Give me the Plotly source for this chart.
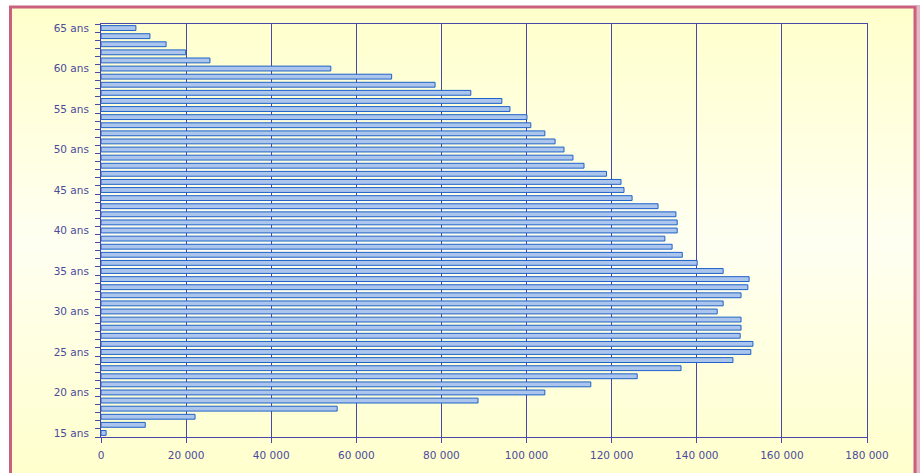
import plotly.graph_objects as go

ages = list(range(15, 66))
# values indexed from 15 ans to 65 ans
values = [1200, 10400, 22100, 55500, 88600, 104300, 115100, 126000, 136300, 148500,
          152700, 153200, 150200, 150400, 150400, 144800, 146200, 150400, 152000, 152300,
          146200, 140100, 136600, 134200, 132500, 135400, 135400, 135100, 130900, 124800,
          122900, 122200, 118800, 113500, 110900, 108800, 106700, 104300, 101000, 100100,
          96100, 94200, 86900, 78500, 68300, 54000, 25600, 19900, 15300, 11500, 8200]
label_ages = [15, 20, 25, 30, 35, 40, 45, 50, 55, 60, 65]
label_text = [f"{a} ans" for a in label_ages]
x_ticks = [0, 20000, 40000, 60000, 80000, 100000, 120000, 140000, 160000, 180000]
x_text = ["0", "20 000", "40 000", "60 000", "80 000", "100 000", "120 000", "140 000", "160 000", "180 000"]

W, H = 920, 473
L, R, T, B = 101, 867, 24, 437

def px(x):
    return (x - L) / (R - L)

def py(y):
    return (B - y) / (B - T)

axis_col = "#4848A8"
font_col = "#4B4B9B"

fig = go.Figure()
fig.add_trace(go.Bar(
    x=values, y=ages, orientation="h",
    marker=dict(color="#ABC5EC", line=dict(color="#1F62C9", width=1)),
    width=0.6, hoverinfo="x+y",
))

shapes = []
top_c = (255, 255, 204)
mid_c = (255, 255, 242)
n = 60
y0p, y1p = 7, 480
for i in range(n):
    f = i / (n - 1)
    t = abs(f - 0.5) * 2
    c = tuple(int(round(mid_c[k] + (top_c[k] - mid_c[k]) * t)) for k in range(3))
    ya = y0p + (y1p - y0p) * i / n
    yb = y0p + (y1p - y0p) * (i + 1) / n + 1
    shapes.append(dict(type="rect", xref="paper", yref="paper", layer="below",
                       x0=px(10), x1=px(915), y0=py(ya), y1=py(yb),
                       fillcolor=f"rgb{c}", line=dict(width=0)))
shapes.append(dict(type="rect", xref="paper", yref="paper", layer="below",
                   x0=px(916), x1=px(921), y0=py(5), y1=py(480),
                   fillcolor="#E6B7C6", line=dict(width=0)))
shapes.append(dict(type="rect", xref="paper", yref="paper", layer="below",
                   x0=px(10.5), x1=px(915), y0=py(7), y1=py(490),
                   fillcolor="rgba(0,0,0,0)", line=dict(color="#C8607E", width=3)))

fig.update_layout(
    width=W, height=H,
    margin=dict(l=L, r=W - R, t=T, b=H - B, pad=0),
    paper_bgcolor="white", plot_bgcolor="rgba(0,0,0,0)",
    showlegend=False, shapes=shapes,
    font=dict(family="DejaVu Sans, Verdana", size=10.5, color=font_col),
    xaxis=dict(range=[0, 180000], tickvals=x_ticks, ticktext=x_text,
               showgrid=True, gridcolor=axis_col, gridwidth=1,
               showline=True, linecolor=axis_col, linewidth=1, mirror=True,
               ticks="outside", ticklen=5, tickcolor=axis_col,
               zeroline=False, tickfont=dict(size=10.5, color=font_col),
               ticklabelstandoff=3),
    yaxis=dict(range=[14.5, 65.5], tickvals=label_ages, ticktext=label_text,
               showgrid=False, showline=True, linecolor=axis_col, linewidth=1,
               mirror=True, ticks="", zeroline=False,
               tickfont=dict(size=10.5, color=font_col), ticklabelstandoff=9,
               minor=dict(tickvals=[a + 0.5 for a in range(14, 66)], ticks="outside",
                          ticklen=5, tickcolor=axis_col, showgrid=False)),
)

fig.write_html("out.html", config={"displayModeBar": False},
               post_script="document.body.style.margin='0';document.body.style.overflow='hidden';")
